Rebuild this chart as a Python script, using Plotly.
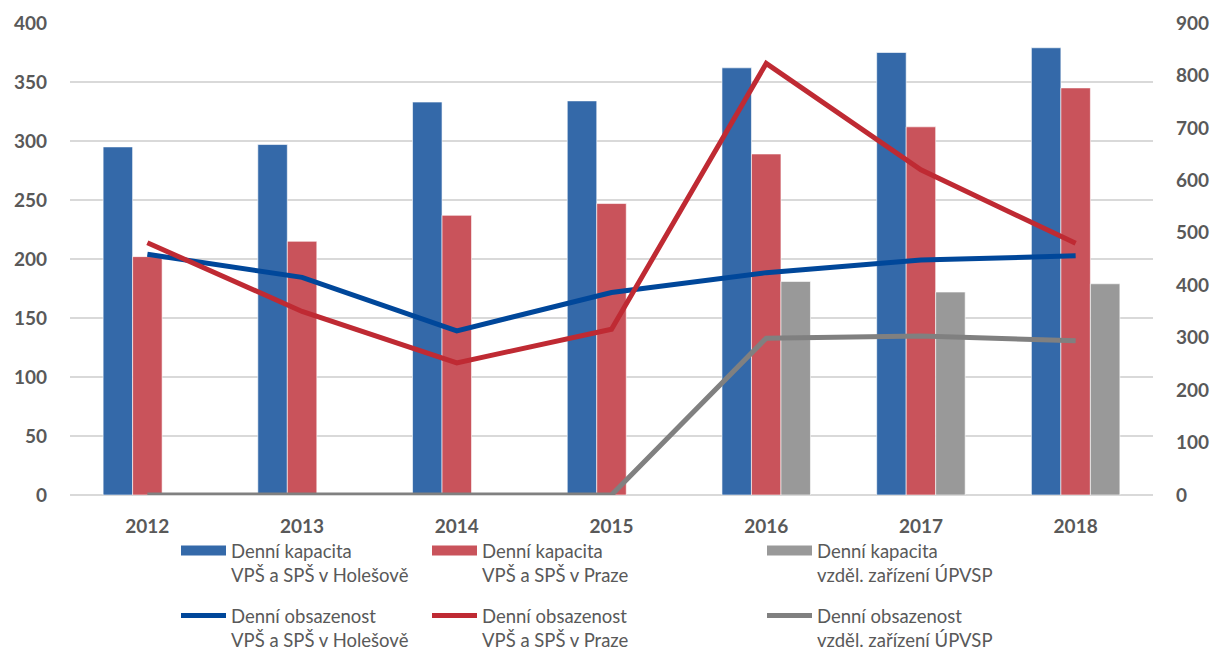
import plotly.graph_objects as go

years = ["2012", "2013", "2014", "2015", "2016", "2017", "2018"]

cap_holesov = [295, 297, 333, 334, 362, 375, 379]
cap_praha = [202, 215, 237, 247, 289, 312, 345]
cap_upvsp = [None, None, None, None, 181, 172, 179]

obs_holesov = [459, 415, 313, 386, 424, 448, 456]
obs_praha = [481, 350, 252, 316, 823, 620, 480]
obs_upvsp = [0, 0, 0, 0, 299, 303, 294]

names = [
    "Denní kapacita<br>VPŠ a SPŠ v Holešově",
    "Denní kapacita<br>VPŠ a SPŠ v Praze",
    "Denní kapacita<br>vzděl. zařízení ÚPVSP",
    "Denní obsazenost<br>VPŠ a SPŠ v Holešově",
    "Denní obsazenost<br>VPŠ a SPŠ v Praze",
    "Denní obsazenost<br>vzděl. zařízení ÚPVSP",
]

bar_colors = ["#3469A9", "#C9535B", "#999999"]
line_colors = ["#00479A", "#BF2A33", "#808080"]

fig = go.Figure()
legend_ids = ["legend", "legend2", "legend3", "legend4", "legend5", "legend6"]

for i, vals in enumerate([cap_holesov, cap_praha, cap_upvsp]):
    fig.add_trace(go.Bar(
        x=years, y=vals, name=names[i], showlegend=False,
        marker=dict(color=bar_colors[i], line=dict(color="rgba(255,255,255,0.6)", width=1)),
        yaxis="y",
    ))
for i, vals in enumerate([obs_holesov, obs_praha, obs_upvsp]):
    fig.add_trace(go.Scatter(
        x=years, y=vals, name=names[3 + i], mode="lines",
        line=dict(color=line_colors[i], width=5),
        yaxis="y2", legend=legend_ids[3 + i], showlegend=True,
    ))
# legend-only entries for the bar series (wide rectangular swatches)
for i in range(3):
    fig.add_trace(go.Scatter(
        x=[None], y=[None], name=names[i], mode="lines",
        line=dict(color=bar_colors[i], width=15),
        yaxis="y", legend=legend_ids[i], showlegend=True, hoverinfo="skip",
    ))

tick_font = dict(family="Lato", size=19, color="#595959", weight="bold")
legend_font = dict(family="Lato", size=18.5, color="#595959")

W, H = 1215, 655
col_x = [176, 427, 762]
row_y = [532, 597]
layout_legends = {}
for k, lid in enumerate(legend_ids):
    col = k % 3
    row = k // 3
    layout_legends[lid] = dict(
        x=col_x[col] / W, y=1 - row_y[row] / H, xref="container", yref="container",
        xanchor="left", yanchor="top", font=legend_font, valign="top",
        bgcolor="rgba(0,0,0,0)", itemwidth=45, visible=True,
    )

fig.update_layout(
    width=W, height=H, showlegend=True,
    margin=dict(l=70, r=62, t=23, b=160, autoexpand=False),
    plot_bgcolor="white", paper_bgcolor="white",
    barmode="group", bargap=0.428, bargroupgap=0,
    xaxis=dict(type="category", tickfont=tick_font, showgrid=False, showline=False, ticks="",
               ticklabelstandoff=18, tickangle=0),
    yaxis=dict(range=[0, 400], dtick=50, tickfont=tick_font, gridcolor="#D9D9D9",
               gridwidth=1.5, zeroline=True, zerolinecolor="#D9D9D9", zerolinewidth=1.5,
               showline=False, ticklabelstandoff=22),
    yaxis2=dict(range=[0, 900], dtick=100, tickfont=tick_font, overlaying="y",
                side="right", showgrid=False, zeroline=False, showline=False,
                ticklabelstandoff=22),
    **layout_legends,
)

fig.write_html("out.html", config={"displayModeBar": False},
               post_script="document.body.style.margin='0';")
